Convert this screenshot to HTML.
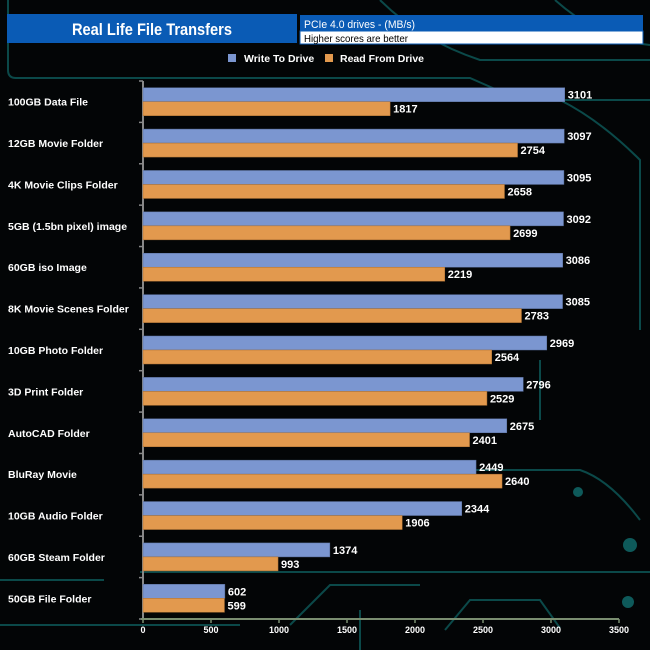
<!DOCTYPE html>
<html><head><meta charset="utf-8"><style>
body{margin:0;background:#000;}
svg{display:block;font-family:"Liberation Sans",Arial,sans-serif;}
</style></head><body>
<svg id="chart" width="650" height="650" viewBox="0 0 650 650" xmlns="http://www.w3.org/2000/svg">
<rect width="650" height="650" fill="#030506"/>
<g fill="none" stroke="#0e5a5a" stroke-width="2" opacity="0.8">
<path d="M8 0 V70 Q8 78 16 78 H470 L520 100 H650"/>
<path d="M380 0 Q420 40 480 60 H650"/>
<path d="M555 0 Q600 40 650 45"/>
<path d="M140 572 H650"/>
<path d="M0 580 H104"/>
<path d="M290 625 L330 585 H420"/>
<path d="M445 630 L470 600 H540 L560 628"/>
<path d="M0 625 H240"/>
<path d="M360 650 V610"/>
<path d="M560 100 Q600 120 640 160 V330"/>
<path d="M540 360 V420"/>
<path d="M470 470 H580 Q610 480 640 520"/>
</g>
<circle cx="630" cy="545" r="7" fill="#0e5a5a"/>
<circle cx="628" cy="602" r="6" fill="#0e5a5a"/>
<circle cx="578" cy="492" r="5" fill="#0e5a5a"/>

<rect x="7" y="14" width="290" height="29" fill="#0a5bb5"/>
<text x="152" y="35" text-anchor="middle" fill="#fff" font-size="17" font-weight="bold" textLength="160" lengthAdjust="spacingAndGlyphs">Real Life File Transfers</text>
<rect x="300" y="15" width="343" height="16" fill="#0a5bb5"/>
<rect x="300" y="31" width="343" height="13" fill="#fff" stroke="#0a5bb5"/>
<text x="304" y="28" fill="#fff" font-size="11" textLength="111" lengthAdjust="spacingAndGlyphs">PCIe 4.0 drives - (MB/s)</text>
<text x="304" y="42" fill="#000" font-size="10.5" textLength="104" lengthAdjust="spacingAndGlyphs">Higher scores are better</text>

<rect x="228" y="54" width="8" height="8" fill="#7b96d0"/>
<text x="244" y="62" fill="#fff" font-size="10.5" font-weight="bold">Write To  Drive</text>
<rect x="325" y="54" width="8" height="8" fill="#e2994e"/>
<text x="340" y="62" fill="#fff" font-size="10.5" font-weight="bold">Read From  Drive</text>
<g id="plot"></g>
</svg>
<script>
const categories=["100GB Data File","12GB Movie Folder","4K Movie Clips Folder","5GB (1.5bn pixel) image","60GB iso Image","8K Movie Scenes Folder","10GB Photo Folder","3D Print Folder","AutoCAD Folder","BluRay Movie","10GB Audio Folder","60GB Steam Folder","50GB File Folder"];
const writeValues=[3101,3097,3095,3092,3086,3085,2969,2796,2675,2449,2344,1374,602];
const readValues=[1817,2754,2658,2699,2219,2783,2564,2529,2401,2640,1906,993,599];
const xTicks=[0,500,1000,1500,2000,2500,3000,3500];

const NS="http://www.w3.org/2000/svg";
const plot=document.getElementById("plot");
const x0=143,x1=619,xMax=3500,yTop=81,yBot=619;
const step=(yBot-yTop)/categories.length;
const xs=v=>x0+v/xMax*(x1-x0);
const yc=i=>yTop+step*(i+0.5);
function mk(tag,attrs,txt){const e=document.createElementNS(NS,tag);for(const k in attrs)e.setAttribute(k,attrs[k]);if(txt!==undefined)e.textContent=txt;plot.appendChild(e);return e;}

let e=mk("line",{x1:x0,y1:yTop,x2:x0,y2:yBot,stroke:"#888","stroke-width":2});


for(let i=0;i<=categories.length;i++){
  const y=yTop+step*i;
  e=mk("line",{x1:x0-4,y1:y,x2:x0,y2:y,stroke:"#888","stroke-width":1.5});
  
  
}
e=mk("line",{x1:x0-2,y1:yBot,x2:x1,y2:yBot,stroke:"#7a8e70","stroke-width":2});


xTicks.forEach(t=>{
  const x=xs(t);
  let l=mk("line",{x1:x,y1:yBot,x2:x,y2:yBot+4,stroke:"#7a8e70","stroke-width":1.5});
  
  
  let tx=mk("text",{x:x,y:yBot+14,"text-anchor":"middle",fill:"#fff","font-size":"9","font-weight":"bold"},String(t));
  
  
});
categories.forEach((c,i)=>{
  const y=yc(i);
  let t=mk("text",{x:8,y:y+4,fill:"#fff","font-size":"10.5","font-weight":"bold"},c);
  
  
  const bh=14;
  let b=mk("rect",{x:x0,y:y-bh,width:xs(writeValues[i])-x0,height:bh,fill:"#7b96d0",stroke:"#5a6f9c","stroke-width":0.5});
  
  
  let r=mk("rect",{x:x0,y:y,width:xs(readValues[i])-x0,height:bh,fill:"#e2994e",stroke:"#a86e32","stroke-width":0.5});
  
  
  let wl=mk("text",{x:xs(writeValues[i])+3,y:y-3,fill:"#fff","font-size":"11","font-weight":"bold"},String(writeValues[i]));
  
  
  let rl=mk("text",{x:xs(readValues[i])+3,y:y+11,fill:"#fff","font-size":"11","font-weight":"bold"},String(readValues[i]));
  
  
});
</script>
</body></html>
